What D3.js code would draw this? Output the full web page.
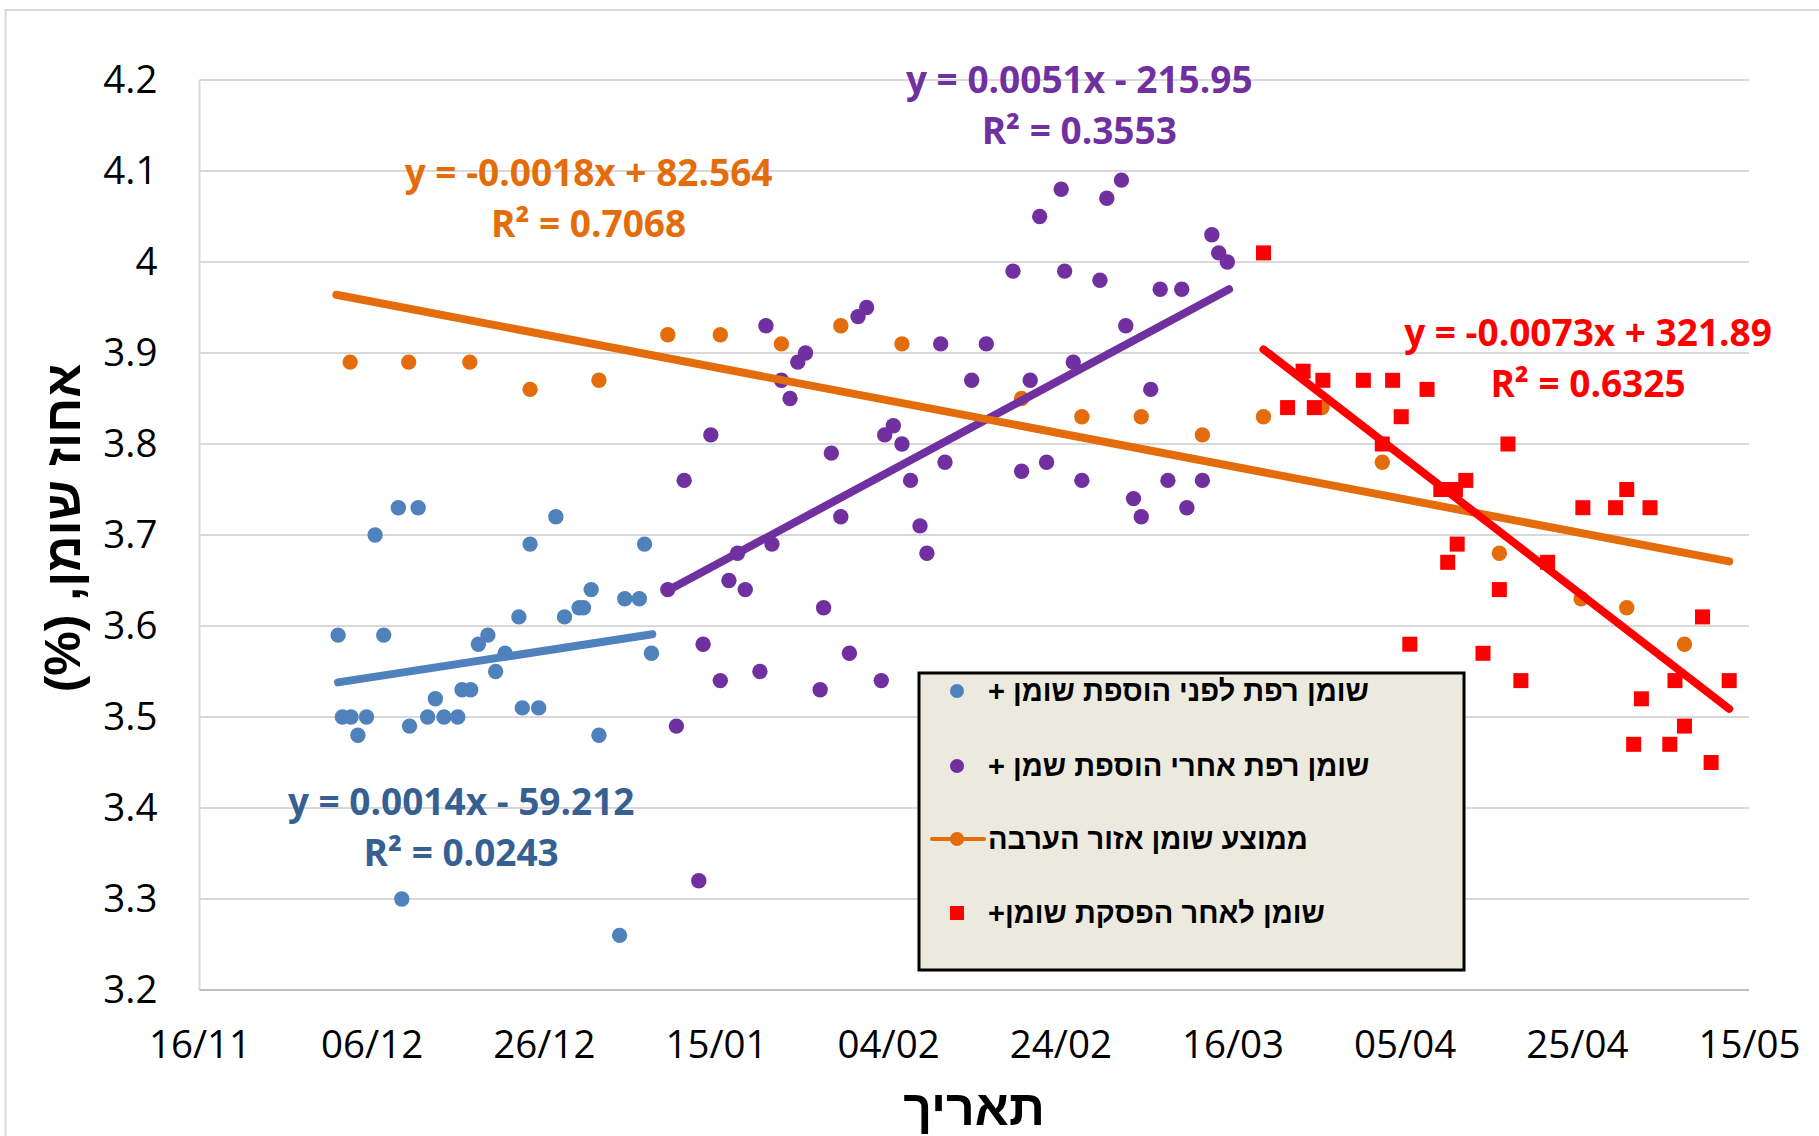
<!DOCTYPE html>
<meta charset="utf-8">
<head>
<title>אחוז שומן לפי תאריך</title>
<script src="https://d3js.org/d3.v7.min.js"></script>
<style>
    body { margin: 0; background: #fff; }
    .tick text { font-family: "Open Sans", sans-serif; font-size: 38.5px; fill: #000; }
    .grid line { stroke: #d9d9d9; stroke-width: 2px; }
    .eq { font-family: "Open Sans", sans-serif; font-weight: bold; font-size: 37px; text-anchor: middle; }
    .heb { font-family: "Liberation Sans", "DejaVu Sans", sans-serif; font-weight: bold; direction: rtl; }
</style>
</head>
<body>
<script>
// x = days since 16/11
var xTickDays = [0, 20, 40, 60, 80, 100, 120, 140, 160, 180];
var xTickLabels = ["16/11", "06/12", "26/12", "15/01", "04/02", "24/02", "16/03", "05/04", "25/04", "15/05"];
var yTicks = [3.2, 3.3, 3.4, 3.5, 3.6, 3.7, 3.8, 3.9, 4.0, 4.1, 4.2];
var yTickLabels = ["3.2", "3.3", "3.4", "3.5", "3.6", "3.7", "3.8", "3.9", "4", "4.1", "4.2"];

var blueDays = [16.1, 16.6, 17.6, 18.4, 19.4, 20.4, 21.4, 23.1, 23.5, 24.4, 25.4, 26.5, 27.4, 28.4, 30.0, 30.5, 31.5, 32.4,
    33.5, 34.4, 35.5, 37.1, 37.5, 38.4, 39.4, 41.4, 42.4, 44.1, 44.6, 45.5, 46.4, 48.8, 49.4, 51.1, 51.7, 52.5];
var blueValues = [3.59, 3.50, 3.50, 3.48, 3.50, 3.70, 3.59, 3.73, 3.30, 3.49, 3.73, 3.50, 3.52, 3.50, 3.50, 3.53, 3.53, 3.58,
    3.59, 3.55, 3.57, 3.61, 3.51, 3.69, 3.51, 3.72, 3.61, 3.62, 3.62, 3.64, 3.48, 3.26, 3.63, 3.63, 3.69, 3.57];

var purpleDays = [54.4, 55.4, 56.3, 58.0, 58.5, 59.4, 60.5, 61.5, 62.5, 63.4, 65.1, 65.8, 66.5, 67.6, 68.6, 69.5, 70.4, 72.1,
    72.5, 73.4, 74.5, 75.5, 76.5, 77.5, 79.2, 79.6, 80.6, 81.6, 82.6, 83.7, 84.5, 86.1, 86.6, 89.7, 91.4, 94.5, 95.5, 96.5,
    97.6, 98.4, 100.1, 100.5, 101.5, 102.5, 104.6, 105.4, 107.1, 107.6, 108.5, 109.4, 110.5, 111.6, 112.5, 114.1, 114.7,
    116.5, 117.6, 118.4, 119.4];
var purpleValues = [3.64, 3.49, 3.76, 3.32, 3.58, 3.81, 3.54, 3.65, 3.68, 3.64, 3.55, 3.93, 3.69, 3.87, 3.85, 3.89, 3.90, 3.53,
    3.62, 3.79, 3.72, 3.57, 3.94, 3.95, 3.54, 3.81, 3.82, 3.80, 3.76, 3.71, 3.68, 3.91, 3.78, 3.87, 3.91, 3.99, 3.77, 3.87,
    4.05, 3.78, 4.08, 3.99, 3.89, 3.76, 3.98, 4.07, 4.09, 3.93, 3.74, 3.72, 3.86, 3.97, 3.76, 3.97, 3.73,
    3.76, 4.03, 4.01, 4.00];

var orangeDays = [17.5, 24.3, 31.4, 38.4, 46.4, 54.4, 60.5, 67.6, 74.5, 81.6, 95.5, 102.5, 109.4, 116.5, 123.6, 130.4,
    137.4, 151.0, 160.5, 165.8, 172.5];
var orangeValues = [3.89, 3.89, 3.89, 3.86, 3.87, 3.92, 3.92, 3.91, 3.93, 3.91, 3.85, 3.83, 3.83, 3.81, 3.83, 3.84,
    3.78, 3.68, 3.63, 3.62, 3.58];

var redDays = [123.6, 126.4, 128.2, 129.5, 130.5, 135.2, 137.4, 138.6, 139.6, 140.6, 142.6, 144.2, 145.0, 145.9, 146.1,
    147.1, 149.1, 151.0, 152.0, 153.5, 156.6, 160.7, 164.5, 165.8, 166.6, 167.5, 168.5, 170.8, 171.4, 172.5, 174.6,
    175.6, 177.7];
var redValues = [4.01, 3.84, 3.88, 3.84, 3.87, 3.87, 3.80, 3.87, 3.83, 3.58, 3.86, 3.75, 3.67, 3.75, 3.69,
    3.76, 3.57, 3.64, 3.80, 3.54, 3.67, 3.73, 3.73, 3.75, 3.47, 3.52, 3.73, 3.47, 3.54, 3.49, 3.61,
    3.45, 3.54];

// trendline end points (day, value)
var blueTrend = [[16.1, 3.538], [52.6, 3.591]];
var purpleTrend = [[54.4, 3.639], [119.6, 3.970]];
var orangeTrend = [[15.9, 3.964], [177.7, 3.671]];
var redTrend = [[123.6, 3.904], [177.7, 3.509]];

var blueEq = ["y = 0.0014x - 59.212", "R² = 0.0243"];
var purpleEq = ["y = 0.0051x - 215.95", "R² = 0.3553"];
var orangeEq = ["y = -0.0018x + 82.564", "R² = 0.7068"];
var redEq = ["y = -0.0073x + 321.89", "R² = 0.6325"];

var legendLabels = ["שומן רפת לפני הוספת שומן +", "שומן רפת אחרי הוספת שמן +", "ממוצע שומן אזור הערבה", "שומן לאחר הפסקת שומן+"];

var width = 1819, height = 1136;
var colors = { blue: "#4f81bd", purple: "#7030a0", orange: "#e46c0a", red: "#ff0000" };

var svg = d3.select("body").append("svg")
    .attr("width", width)
    .attr("height", height);

// chart area border
svg.append("path")
    .attr("d", "M5.5," + height + "V10H" + width)
    .attr("fill", "none")
    .attr("stroke", "#d9d9d9")
    .attr("stroke-width", 2);

var x = d3.scaleLinear().domain([0, 180]).range([199.5, 1749]);
var y = d3.scaleLinear().domain([3.2, 4.2]).range([990, 80]);

// gridlines
svg.append("g").attr("class", "grid")
    .selectAll("line")
    .data(yTicks.slice(1))
    .enter().append("line")
    .attr("x1", x(0)).attr("x2", x(180))
    .attr("y1", function (d) { return y(d); })
    .attr("y2", function (d) { return y(d); });

svg.append("line")
    .attr("x1", x(0)).attr("x2", x(0))
    .attr("y1", y(4.2)).attr("y2", y(3.2))
    .attr("stroke", "#d9d9d9").attr("stroke-width", 2);
svg.append("line")
    .attr("x1", x(0)).attr("x2", x(180))
    .attr("y1", y(3.2)).attr("y2", y(3.2))
    .attr("stroke", "#bfbfbf").attr("stroke-width", 2);

var yAxis = svg.append("g")
    .attr("transform", "translate(" + x(0) + ",0)")
    .call(d3.axisLeft(y).tickValues(yTicks).tickSize(0).tickPadding(42)
        .tickFormat(function (d, i) { return yTickLabels[i]; }));
yAxis.select(".domain").remove();

var xAxis = svg.append("g")
    .attr("transform", "translate(0," + y(3.2) + ")")
    .call(d3.axisBottom(x).tickValues(xTickDays).tickSize(0).tickPadding(41)
        .tickFormat(function (d, i) { return xTickLabels[i]; }));
xAxis.select(".domain").remove();

function zip(days, values) {
    return days.map(function (d, i) { return { day: d, value: values[i] }; });
}

function dots(data, color) {
    svg.append("g").selectAll("circle")
        .data(data)
        .enter().append("circle")
        .attr("cx", function (d) { return x(d.day); })
        .attr("cy", function (d) { return y(d.value); })
        .attr("r", 7.7)
        .attr("fill", color);
}

dots(zip(blueDays, blueValues), colors.blue);
dots(zip(purpleDays, purpleValues), colors.purple);
dots(zip(orangeDays, orangeValues), colors.orange);

svg.append("g").selectAll("rect")
    .data(zip(redDays, redValues))
    .enter().append("rect")
    .attr("x", function (d) { return x(d.day) - 7.5; })
    .attr("y", function (d) { return y(d.value) - 7.5; })
    .attr("width", 15)
    .attr("height", 15)
    .attr("fill", colors.red);

var line = d3.line()
    .x(function (d) { return x(d[0]); })
    .y(function (d) { return y(d[1]); });

[[blueTrend, colors.blue], [purpleTrend, colors.purple], [orangeTrend, colors.orange], [redTrend, colors.red]]
    .forEach(function (t) {
        svg.append("path")
            .attr("d", line(t[0]))
            .attr("fill", "none")
            .attr("stroke", t[1])
            .attr("stroke-width", 8)
            .attr("stroke-linecap", "round");
    });

// trendline labels, anchored in data space
function equation(lines, day, value, color) {
    var t = svg.append("text").attr("class", "eq")
        .attr("fill", color)
        .attr("x", x(day))
        .attr("y", y(value));
    t.append("tspan").text(lines[0]);
    t.append("tspan").attr("x", x(day)).attr("dy", 51).text(lines[1]);
}

equation(blueEq, 30.4, 3.392, "#376092");
equation(purpleEq, 102.2, 4.186, colors.purple);
equation(orangeEq, 45.2, 4.084, colors.orange);
equation(redEq, 161.3, 3.908, colors.red);

// legend
var legend = svg.append("g");
legend.append("rect")
    .attr("x", 919).attr("y", 673)
    .attr("width", 545).attr("height", 297)
    .attr("fill", "#ece9df")
    .attr("stroke", "#000")
    .attr("stroke-width", 3);

var rowY = [691, 766, 839, 913];
legend.append("circle").attr("cx", 957).attr("cy", rowY[0]).attr("r", 7).attr("fill", colors.blue);
legend.append("circle").attr("cx", 957).attr("cy", rowY[1]).attr("r", 7).attr("fill", colors.purple);
legend.append("line")
    .attr("x1", 932).attr("x2", 984)
    .attr("y1", rowY[2]).attr("y2", rowY[2])
    .attr("stroke", colors.orange).attr("stroke-width", 4).attr("stroke-linecap", "round");
legend.append("circle").attr("cx", 957).attr("cy", rowY[2]).attr("r", 7).attr("fill", colors.orange);
legend.append("rect").attr("x", 950).attr("y", rowY[3] - 7).attr("width", 14).attr("height", 14).attr("fill", colors.red);

legend.selectAll("text.heb")
    .data(legendLabels)
    .enter().append("text")
    .attr("class", "heb")
    .attr("x", 988)
    .attr("y", function (d, i) { return rowY[i] + 10; })
    .attr("text-anchor", "end")
    .style("font-size", "29px")
    .text(function (d) { return d; });

// axis titles
svg.append("text")
    .attr("class", "heb")
    .attr("transform", "translate(80,528) rotate(-90)")
    .attr("text-anchor", "middle")
    .style("font-size", "50px")
    .text("אחוז שומן, (%)");

svg.append("text")
    .attr("class", "heb")
    .attr("x", 974)
    .attr("y", 1125)
    .attr("text-anchor", "middle")
    .style("font-size", "50px")
    .text("תאריך");
</script>
</body>
</html>
